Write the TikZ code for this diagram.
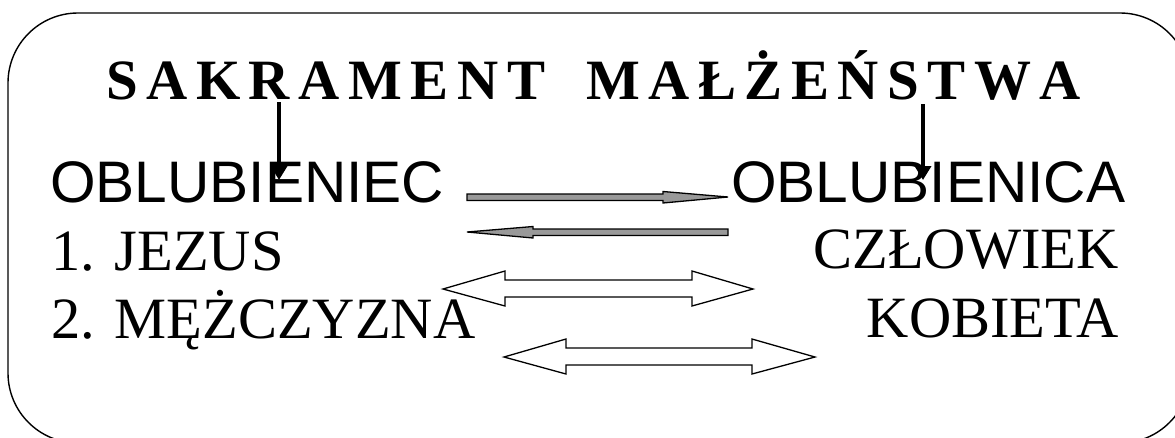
\documentclass[tikz,border=0pt]{standalone}
\usepackage{fontspec}
\setmainfont{Liberation Serif}
\newfontfamily\arialf{Liberation Sans}
\usetikzlibrary{arrows.meta}
\tikzset{
  frame/.style={line width=1.4pt, rounded corners=70pt},
  ttl/.style={anchor=base west, inner sep=0pt, font=\fontsize{57}{64}\selectfont\bfseries},
  sanslbl/.style={anchor=base west, inner sep=0pt, font=\arialf\fontsize{58.6}{66}\selectfont},
  seriflbl/.style={inner sep=0pt, font=\fontsize{58.5}{66}\selectfont},
  vline/.style={line width=4.8pt, -{Triangle[length=14pt,width=16pt]}},
  grayarrow/.style={draw=black, line width=1.3pt, fill=black!40, line join=miter},
  whitearrow/.style={draw=black, line width=1.3pt, fill=white, line join=miter}
}
\begin{document}
\begin{tikzpicture}[x=1pt,y=-1pt]
\useasboundingbox (0,0) rectangle (1175,437);
\clip (0,0) rectangle (1175,437);
\draw[frame] (8,13) rectangle (1190,443);
% title
\node[ttl] (title) at (106,99) {\makebox[975pt][s]{S\hfill A\hfill K\hfill R\hfill A\hfill M\hfill E\hfill N\hfill T\hfill\hspace{24pt}\hfill M\hfill A\hfill Ł\hfill Ż\hfill E\hfill Ń\hfill S\hfill T\hfill W\hfill A}};
% labels
\node[sanslbl] (groom) at (50,202) {OBLUBIENIEC};
\node[sanslbl] (bride) at (731,202) {OBLUBIENICA};
\node[seriflbl, anchor=base west] (jezus) at (51,270) {1. JEZUS};
\node[seriflbl, anchor=base west] (man) at (51,338) {2. MĘŻCZYZNA};
\node[seriflbl, anchor=base east] (human) at (1119,268) {CZŁOWIEK};
\node[seriflbl, anchor=base east] (woman) at (1119,337) {KOBIETA};
% vertical arrows
\coordinate (v1a) at (279,102);
\coordinate (v1b) at (279,180);
\coordinate (v2a) at (923,104);
\coordinate (v2b) at (923,180);
\draw[vline] (v1a) -- (v1b);
\draw[vline] (v2a) -- (v2b);
% gray block arrows
\path[grayarrow] (467,194) -- (663,194) -- (663,191.5) -- (728,197) -- (663,203) -- (663,200.5) -- (467,200.5) -- cycle;
\path[grayarrow] (728,229) -- (533,229) -- (533,226.5) -- (467,232) -- (533,238) -- (533,235.5) -- (728,235.5) -- cycle;
% white double arrows
\path[whitearrow] (443,289) -- (505,271) -- (505,280) -- (692,280) -- (692,271) -- (753,289) -- (692,306) -- (692,297) -- (505,297) -- (505,306) -- cycle;
\path[whitearrow] (504,357) -- (566,339) -- (566,348) -- (752,348) -- (752,339) -- (815,357) -- (752,374) -- (752,365) -- (566,365) -- (566,374) -- cycle;
\end{tikzpicture}
\end{document}
